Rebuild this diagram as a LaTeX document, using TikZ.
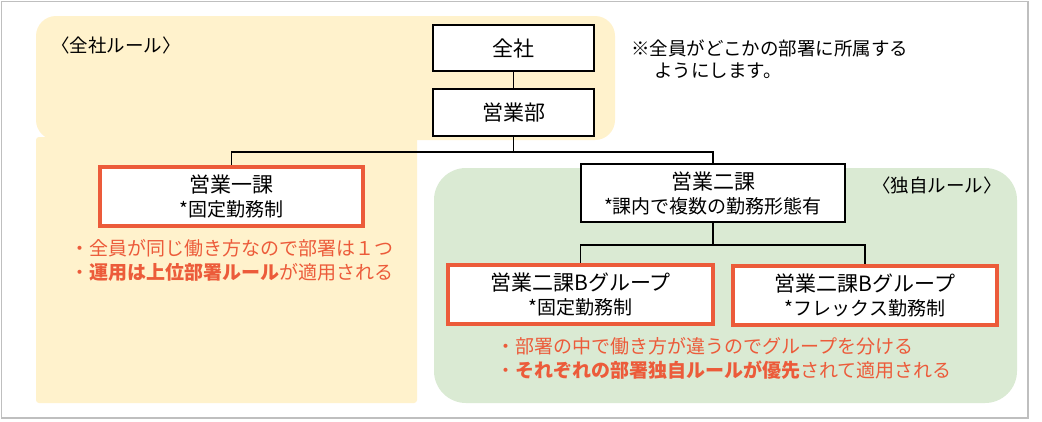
\documentclass[tikz,border=0pt]{standalone}
\usepackage{fontspec}
\setmainfont{Noto Sans CJK JP}
\definecolor{zyellow}{HTML}{FFF2CC}
\definecolor{zgreen}{HTML}{DAEAD3}
\definecolor{zorange}{HTML}{EC5B3A}
\definecolor{zframe}{HTML}{BFBFBF}
\begin{document}
\begin{tikzpicture}[x=1pt,y=-1pt,
  blackbox/.style={draw=black, line width=2pt, fill=white, inner sep=0pt, align=center},
  redbox/.style={draw=zorange, line width=3.2pt, fill=white, inner sep=0pt, align=center},
  conn/.style={draw=black, line width=1.8pt},
  big/.style={font=\fontsize{21}{25}\selectfont},
  two/.style={font=\fontsize{19}{24}\selectfont},
  note/.style={font=\fontsize{18.5}{22}\selectfont, inner sep=0pt, align=left},
  bullet/.style={font=\fontsize{19}{24}\selectfont, text=zorange, inner sep=0pt, align=left}]
\useasboundingbox (0,0) rectangle (1042,421);
\fill[white] (0,0) rectangle (1042,421);
\draw[zframe, line width=1.5pt] (1.5,1.5) rectangle (1028,418);
\fill[zyellow, rounded corners=20pt] (36,16) rectangle (615,140);
\fill[zyellow, rounded corners=3pt] (36,137) rectangle (417,403);
\fill[zgreen, rounded corners=32pt] (434,168) rectangle (1017,403);

\node[blackbox, big, minimum width=161pt, minimum height=46pt] (zensha) at (513.5,48) {全社};
\node[blackbox, big, minimum width=161pt, minimum height=47pt] (eigyo) at (513.5,112.5) {営業部};
\node[redbox, two, minimum width=263pt, minimum height=59pt] (ka1) at (231.5,196.5)
  {{\fontsize{21}{25}\selectfont 営業一課}\\*固定勤務制};
\node[blackbox, two, minimum width=264pt, minimum height=58pt] (ka2) at (713,193)
  {{\fontsize{21}{25}\selectfont 営業二課}\\*課内で複数の勤務形態有};
\node[redbox, two, minimum width=265pt, minimum height=59pt] (gb1) at (580.5,294.5)
  {{\fontsize{21}{25}\selectfont 営業二課Bグループ}\\*固定勤務制};
\node[redbox, two, minimum width=264pt, minimum height=59pt] (gb2) at (865,295.5)
  {{\fontsize{21}{25}\selectfont 営業二課Bグループ}\\*フレックス勤務制};

\draw[conn] (zensha.south) -- (eigyo.north);
\draw[conn] (eigyo.south) -- ++(0,15) -| (ka1.north);
\draw[conn] (eigyo.south) -- ++(0,15) -| (ka2.north);
\draw[conn] (ka2.south) -- ++(0,22) -| (gb1.north);
\draw[conn] (ka2.south) -- ++(0,22) -| (gb2.north);

\node[note, anchor=west] (rule1) at (51,45) {〈全社ルール〉};
\node[note, anchor=east] (rule2) at (1002,185) {〈独自ルール〉};
\node[note, anchor=north west] (memo) at (631,40) {※全員がどこかの部署に所属する\\\hspace*{1.25em}ようにします。};
\node[bullet, anchor=west] (b1) at (70,260) {・全員が同じ働き方なので部署は１つ\\・\textbf{運用は上位部署ルール}が適用される};
\node[bullet, anchor=west] (b2) at (496,358) {・部署の中で働き方が違うのでグループを分ける\\・\textbf{それぞれの部署独自ルールが優先}されて適用される};
\end{tikzpicture}
\end{document}
